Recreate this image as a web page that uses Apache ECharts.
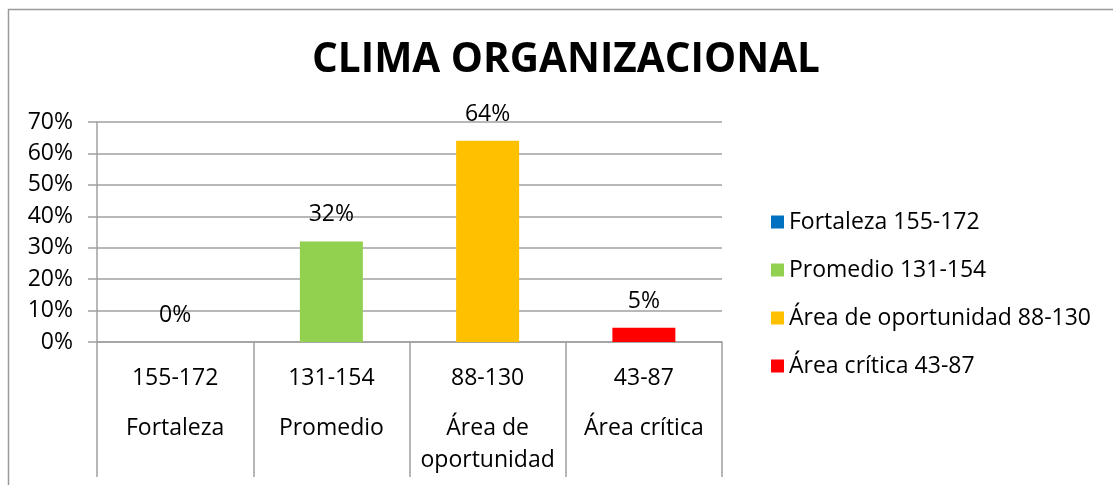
<!DOCTYPE html>
<html>
<head>
<meta charset="utf-8">
<script src="https://cdn.jsdelivr.net/npm/echarts@6/dist/echarts.min.js"></script>
<style>
  html, body { margin: 0; padding: 0; background: #fff; }
  #chart { width: 1113px; height: 485px; }
</style>
</head>
<body>
<div id="chart"></div>
<script>
// rangos y nombres de cada nivel
const ranges = ["155-172", "131-154", "88-130", "43-87"];
const levels = ["Fortaleza", "Promedio", "Área de\noportunidad", "Área crítica"];
const seriesNames = ["Fortaleza 155-172", "Promedio 131-154", "Área de oportunidad 88-130", "Área crítica 43-87"];
const values = [0, 32, 64, 4.5]; // porcentaje
const colors = ["#0070C0", "#92D050", "#FFC000", "#FF0000"];
const yTicks = [0, 10, 20, 30, 40, 50, 60, 70];

const FONT = "Open Sans";
const chart = echarts.init(document.getElementById("chart"));

// una serie por nivel, apiladas para que queden centradas en su categoría
const series = seriesNames.map((name, i) => ({
  name: name,
  type: "bar",
  stack: "total",
  barWidth: 63,
  itemStyle: { color: colors[i] },
  data: values.map((v, j) => (j === i ? v : "-")),
  label: {
    show: true,
    position: "top",
    distance: 15,
    color: "#000",
    fontFamily: FONT,
    fontSize: 23,
    formatter: (p) => Math.round(p.value) + "%",
  },
}));

const option = {
  animation: false,
  title: {
    text: "CLIMA ORGANIZACIONAL",
    left: 561,
    textAlign: "center",
    top: 35,
    textStyle: { fontFamily: FONT, fontWeight: "bold", fontSize: 40.5, color: "#000" },
  },
  graphic: [
    {
      type: "rect",
      shape: { x: 8.5, y: 9.5, width: 1200, height: 600 },
      style: { fill: "none", stroke: "#9a9a9a", lineWidth: 1.5 },
      silent: true,
    },
  ],
  legend: {
    orient: "vertical",
    left: 766,
    top: 204,
    itemWidth: 13,
    itemHeight: 13,
    itemGap: 22,
    icon: "rect",
    data: seriesNames,
    textStyle: { fontFamily: FONT, fontSize: 23, color: "#000", lineHeight: 26 },
  },
  grid: { left: 97, right: 391, top: 122, bottom: 143 },
  xAxis: {
    type: "category",
    data: ranges,
    axisLine: { show: true, lineStyle: { color: "#a0a0a0", width: 1.5 } },
    axisTick: { show: true, length: 135, lineStyle: { color: "#a0a0a0", width: 1.5 } },
    axisLabel: {
      margin: 2,
      interval: 0,
      formatter: (v, i) => {
        const parts = levels[i].split("\n");
        return "{a|" + v + "}\n" + parts.map((p) => "{b|" + p + "}").join("\n");
      },
      rich: {
        a: { fontFamily: FONT, fontSize: 23, color: "#000", lineHeight: 68 },
        b: { fontFamily: FONT, fontSize: 23, color: "#000", lineHeight: 32 },
      },
    },
  },
  yAxis: {
    type: "value",
    min: yTicks[0],
    max: yTicks[yTicks.length - 1],
    interval: 10,
    axisLine: { show: true, lineStyle: { color: "#a0a0a0", width: 1.5 } },
    axisTick: { show: true, length: 9, lineStyle: { color: "#a0a0a0", width: 1.5 } },
    splitLine: { lineStyle: { color: "#a0a0a0", width: 1.5 } },
    axisLabel: {
      margin: 24,
      fontFamily: FONT,
      fontSize: 23,
      color: "#000",
      formatter: (v) => v + "%",
    },
  },
  series: series,
};

chart.setOption(option);
</script>
</body>
</html>
